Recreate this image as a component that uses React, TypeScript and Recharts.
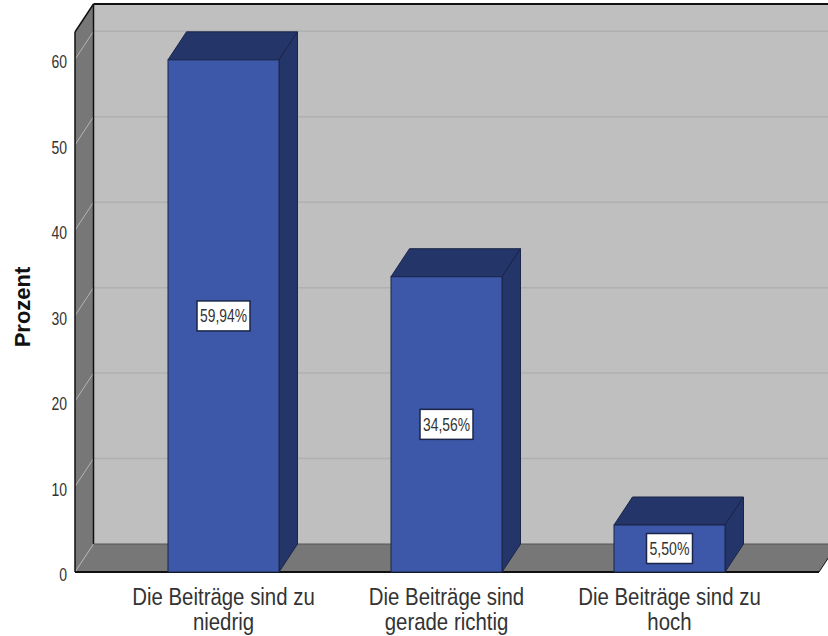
import React from "react";
import { BarChart, Bar, XAxis, YAxis, LabelList, usePlotArea } from "recharts";

const categories = ["Die Beiträge sind zu niedrig", "Die Beiträge sind gerade richtig", "Die Beiträge sind zu hoch"];
const categoryLines: Record<string, string[]> = {
  "Die Beiträge sind zu niedrig": ["Die Beiträge sind zu", "niedrig"],
  "Die Beiträge sind gerade richtig": ["Die Beiträge sind", "gerade richtig"],
  "Die Beiträge sind zu hoch": ["Die Beiträge sind zu", "hoch"],
};
const percents = [59.94, 34.56, 5.5];
const yTicks = [0, 10, 20, 30, 40, 50, 60];
const yMax = 63.2;
const data = categories.map((name, i) => ({ name, value: percents[i] }));

const DX = 18.5;
const DY = -28;
const FRONT = "#3d58a9";
const DARK = "#24356a";
const FONT = "'Liberation Sans', Arial, sans-serif";

function Walls() {
  const p = usePlotArea();
  if (!p) return null;
  const { x, y, width, height } = p;
  const r = x + width;
  const b = y + height;
  const sy = (v: number) => b - (v / yMax) * height;
  return (
    <g>
      <rect x={x + DX} y={y + DY} width={width} height={height} fill="#bfbfbf" />
      <polygon points={`${x},${y} ${x + DX},${y + DY} ${x + DX},${b + DY} ${x},${b}`} fill="#777777" />
      <polygon points={`${x},${b} ${x + DX},${b + DY} ${r + DX},${b + DY} ${r},${b}`} fill="#777777" />
      {yTicks.filter((t) => t > 0).map((t) => (
        <g key={t}>
          <line x1={x + DX} x2={r + DX} y1={sy(t) + DY} y2={sy(t) + DY} stroke="#b0b0b0" strokeWidth={1.5} />
          <line x1={x} x2={x + DX} y1={sy(t)} y2={sy(t) + DY} stroke="#b4b4b4" strokeWidth={1} />
        </g>
      ))}
      <line x1={x} x2={x + DX} y1={b} y2={b + DY} stroke="#b4b4b4" strokeWidth={1} />
      <line x1={x + DX} x2={r + DX} y1={y + DY} y2={y + DY} stroke="#111" strokeWidth={2} />
      <line x1={x + DX} x2={x + DX} y1={y + DY} y2={b + DY} stroke="#111" strokeWidth={1.5} />
      <line x1={x + DX} x2={r + DX} y1={b + DY} y2={b + DY} stroke="#555" strokeWidth={1} />
      <line x1={x} x2={x + DX} y1={y} y2={y + DY} stroke="#111" strokeWidth={1.5} />
      <line x1={x} x2={x} y1={y} y2={b} stroke="#111" strokeWidth={1.5} />
      <line x1={r} x2={r + DX} y1={b} y2={b + DY} stroke="#111" strokeWidth={1} />
      <line x1={x} x2={r} y1={b} y2={b} stroke="#111" strokeWidth={2} />
    </g>
  );
}

function Box3D(props: any) {
  const { x, y, width, height } = props;
  const r = x + width;
  const b = y + height;
  return (
    <g stroke="#1a2547" strokeWidth={1}>
      <polygon points={`${x},${y} ${x + DX},${y + DY} ${r + DX},${y + DY} ${r},${y}`} fill={DARK} />
      <polygon points={`${r},${y} ${r + DX},${y + DY} ${r + DX},${b + DY} ${r},${b}`} fill={DARK} />
      <rect x={x} y={y} width={width} height={height} fill={FRONT} />
    </g>
  );
}

function BoxLabel(props: any) {
  const { x, y, width, height, value } = props;
  const text = Number(value).toFixed(2).replace(".", ",") + "%";
  const w = text.length > 5 ? 53 : 46;
  const h = 30;
  const cx = x + width / 2;
  const cy = y + height / 2;
  return (
    <g>
      <rect x={cx - w / 2} y={cy - h / 2} width={w} height={h} fill="#fff" stroke="#1a2547" strokeWidth={1.5} />
      <text x={cx} y={cy + 6.5} textAnchor="middle" fontFamily={FONT} fontSize={18} fill="#333" textLength={w - 6} lengthAdjust="spacingAndGlyphs">
        {text}
      </text>
    </g>
  );
}

function CatTick(props: any) {
  const { x, payload } = props;
  const lines = categoryLines[payload.value] || [payload.value];
  return (
    <g>
      {lines.map((l, i) => (
        <text key={i} x={x} y={605 + i * 25.5} textAnchor="middle" fontFamily={FONT} fontSize={24} fill="#333"
          transform={`translate(${x} 0) scale(0.85 1) translate(${-x} 0)`}>
          {l}
        </text>
      ))}
    </g>
  );
}

function ValTick(props: any) {
  const { y, payload } = props;
  return (
    <text x={67} y={y + 9} textAnchor="end" fontFamily={FONT} fontSize={17.5} fill="#333"
      transform={`translate(67 0) scale(0.8 1) translate(-67 0)`}>
      {payload.value}
    </text>
  );
}

export default function App() {
  return (
    <div style={{ position: "absolute", left: 0, top: 0, width: 828, height: 636, overflow: "hidden", background: "#fff" }}>
      <BarChart width={828} height={636} data={data} margin={{ top: 32, right: 9, bottom: 0, left: 0 }} barCategoryGap={0}>
        <Walls />
        <XAxis dataKey="name" height={64} interval={0} axisLine={false} tickLine={false} padding={{ left: 37, right: 38 }} tick={<CatTick />} />
        <YAxis width={75} domain={[0, yMax]} ticks={yTicks} axisLine={false} tickLine={false} tick={<ValTick />}
          label={{ value: "Prozent", angle: -90, position: "insideLeft", dx: 17, dy: 5, style: { fontFamily: FONT, fontWeight: 700, fontSize: 22, fill: "#111", textAnchor: "middle" } }} />
        <Bar dataKey="value" barSize={111} isAnimationActive={false} shape={<Box3D />}>
          <LabelList dataKey="value" content={<BoxLabel />} />
        </Bar>
      </BarChart>
    </div>
  );
}
